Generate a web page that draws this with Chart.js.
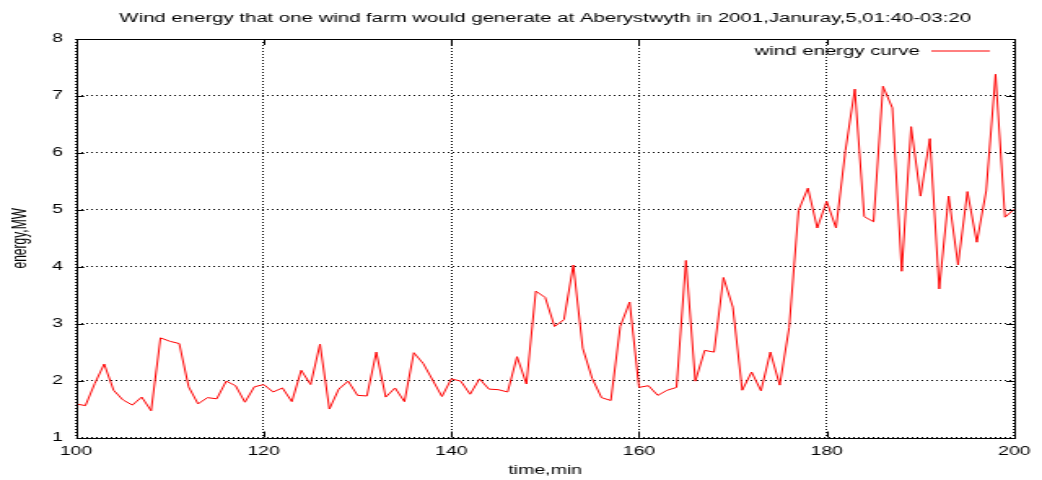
<!DOCTYPE html>
<html>
<head>
<meta charset="utf-8">
<script src="https://cdn.jsdelivr.net/npm/chart.js@4.4.1/dist/chart.umd.min.js"></script>
<style>
html,body{margin:0;padding:0;background:#fff;}
</style>
</head>
<body>
<canvas id="c" width="640" height="480" style="width:1042px;height:480px;display:block"></canvas>
<script>
const chartTitle = 'Wind energy that one wind farm would generate at Aberystwyth in 2001,Januray,5,01:40-03:20';
const seriesLabel = 'wind energy curve';
const xAxisTitle = 'time,min';
const yAxisTitle = 'energy,MW';

const minutes = [
  100,101,102,103,104,105,106,107,108,109,
  110,111,112,113,114,115,116,117,118,119,
  120,121,122,123,124,125,126,127,128,129,
  130,131,132,133,134,135,136,137,138,139,
  140,141,142,143,144,145,146,147,148,149,
  150,151,152,153,154,155,156,157,158,159,
  160,161,162,163,164,165,166,167,168,169,
  170,171,172,173,174,175,176,177,178,179,
  180,181,182,183,184,185,186,187,188,189,
  190,191,192,193,194,195,196,197,198,199,
  200
];

const energy = [
  1.59,1.56,1.95,2.29,1.83,1.66,1.57,1.71,1.47,2.75,
  2.69,2.65,1.89,1.59,1.70,1.68,1.99,1.91,1.62,1.89,
  1.93,1.80,1.87,1.63,2.18,1.93,2.64,1.50,1.85,1.99,
  1.74,1.73,2.50,1.71,1.87,1.63,2.49,2.30,2.01,1.72,
  2.03,1.99,1.76,2.03,1.85,1.84,1.80,2.42,1.94,3.57,
  3.46,2.95,3.07,4.03,2.57,2.04,1.70,1.65,2.95,3.38,
  1.88,1.91,1.74,1.83,1.88,4.11,1.99,2.53,2.50,3.81,
  3.29,1.83,2.15,1.82,2.50,1.92,2.93,4.99,5.38,4.68,
  5.15,4.68,6.04,7.12,4.88,4.79,7.17,6.79,3.92,6.46,
  5.24,6.25,3.61,5.24,4.03,5.32,4.43,5.33,7.38,4.87,
  5.01
];

const xTickValues = [100,120,140,160,180,200];
const yTickValues = [1,2,3,4,5,6,7,8];

const FAMILY = "'Liberation Sans', Arial, Helvetica, sans-serif";
const FONT = {family: FAMILY, size: 12};
const BIGFONT = {family: FAMILY, size: 12.5, weight: 'normal'};

const framePlugin = {
  id: 'frame',
  afterLayout(chart) {
    const tb = chart.titleBlock;
    if (tb) {
      tb.left = chart.chartArea.left;
      tb.right = chart.chartArea.right;
    }
  },
  afterDatasetsDraw(chart) {
    const {ctx, chartArea: a, scales: {x, y}} = chart;
    ctx.save();
    ctx.strokeStyle = '#000';
    ctx.lineWidth = 1;
    ctx.setLineDash([]);
    ctx.beginPath();
    xTickValues.forEach(v => {
      const px = Math.round(x.getPixelForValue(v)) + 0.5;
      ctx.moveTo(px, a.bottom); ctx.lineTo(px, a.bottom - 6);
      ctx.moveTo(px, a.top); ctx.lineTo(px, a.top + 6);
    });
    yTickValues.forEach(v => {
      const py = Math.round(y.getPixelForValue(v)) + 0.5;
      ctx.moveTo(a.left, py); ctx.lineTo(a.left + 5, py);
      ctx.moveTo(a.right, py); ctx.lineTo(a.right - 5, py);
    });
    ctx.stroke();
    const l = Math.round(a.left) + 0.5, r = Math.round(a.right) + 0.5;
    const t = Math.round(a.top) + 0.5, b = Math.round(a.bottom) + 0.5;
    ctx.strokeRect(l, t, r - l, b - t);
    const ds = chart.data.datasets[0];
    const ky = Math.round(a.top + 12);
    ctx.font = BIGFONT.size + 'px ' + FAMILY;
    ctx.fillStyle = '#000';
    ctx.textAlign = 'right';
    ctx.textBaseline = 'middle';
    ctx.fillText(ds.label, a.right - 58, ky + 0.5);
    ctx.strokeStyle = ds.borderColor;
    ctx.beginPath();
    ctx.moveTo(a.right - 51, ky);
    ctx.lineTo(a.right - 15, ky);
    ctx.stroke();
    ctx.restore();
  }
};

new Chart(document.getElementById('c'), {
  type: 'line',
  data: {
    datasets: [{
      label: seriesLabel,
      data: minutes.map((m, i) => ({x: m, y: energy[i]})),
      borderColor: '#ff0000',
      borderWidth: 1,
      pointRadius: 0,
      tension: 0,
      fill: false
    }]
  },
  options: {
    responsive: false,
    animation: false,
    devicePixelRatio: 1,
    layout: {padding: {left: 0, right: 14, top: 0, bottom: 0}},
    plugins: {
      legend: {display: false},
      tooltip: {enabled: false},
      title: {
        display: true,
        text: chartTitle,
        color: '#000',
        font: BIGFONT,
        padding: {top: 11, bottom: 13}
      }
    },
    scales: {
      x: {
        type: 'linear',
        min: 100,
        max: 200,
        afterBuildTicks: s => { s.ticks = xTickValues.map(v => ({value: v})); },
        afterFit: s => { s.height = 42.5; },
        ticks: {color: '#000', font: FONT, padding: 7, maxRotation: 0, autoSkip: false},
        grid: {color: '#000', lineWidth: 1, drawTicks: false},
        border: {display: false, dash: [1, 2]},
        title: {display: true, text: xAxisTitle, color: '#000', font: FONT, padding: {top: 0, bottom: 2}}
      },
      y: {
        type: 'linear',
        min: 1,
        max: 8,
        afterBuildTicks: s => { s.ticks = yTickValues.map(v => ({value: v})); },
        afterFit: s => { s.width = 46.7; },
        ticks: {color: '#000', font: FONT, padding: 8, autoSkip: false},
        grid: {color: '#000', lineWidth: 1, drawTicks: false},
        border: {display: false, dash: [1, 2]},
        title: {display: true, text: yAxisTitle, color: '#000', font: FONT, padding: {top: 5, bottom: 0}}
      }
    }
  },
  plugins: [framePlugin]
});
</script>
</body>
</html>
